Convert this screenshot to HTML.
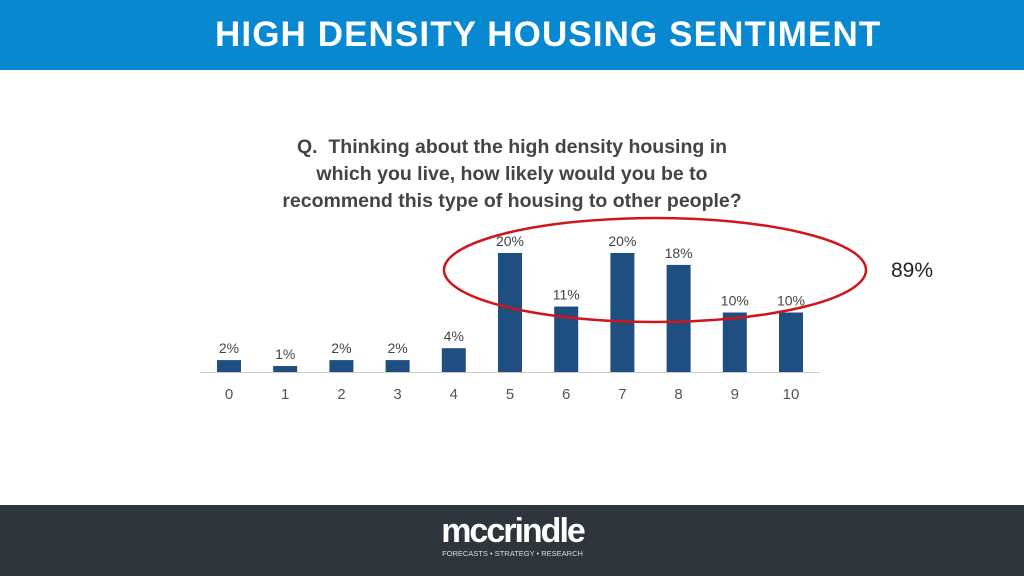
<!DOCTYPE html>
<html><head><meta charset="utf-8"><style>
body{margin:0;width:1024px;height:576px;position:relative;background:#fff;font-family:"Liberation Sans",sans-serif;overflow:hidden}
#hdr{position:absolute;left:0;top:0;width:1024px;height:70px;background:#0788d0}
#hdr h1{margin:0;position:absolute;left:215px;top:15px;color:#fff;font-size:35px;font-weight:bold;letter-spacing:1.1px;white-space:nowrap}
#q{position:absolute;left:180px;width:664px;top:134px;text-align:center;color:#444;font-weight:bold;font-size:19.5px;line-height:27px}
#ftr{position:absolute;left:0;top:505px;width:1024px;height:71px;background:#2f353d}
</style></head><body>
<div id="hdr"><h1>HIGH DENSITY HOUSING SENTIMENT</h1></div>
<div id="q">Q.&nbsp; Thinking about the high density housing in<br>which you live, how likely would you be to<br>recommend this type of housing to other people?</div>
<svg id="chart" width="1024" height="576" style="position:absolute;left:0;top:0"></svg>
<div id="ftr">
<div style="position:absolute;left:430px;top:7px;width:165px;text-align:center;color:#fff;white-space:nowrap">
<div style="font-size:34px;font-weight:bold;letter-spacing:-2px;line-height:38px">mccrindle</div>
<div style="font-size:7.5px;color:#ddd;margin-top:-1px">FORECASTS • STRATEGY • RESEARCH</div></div></div>
<script>
const categories=["0","1","2","3","4","5","6","7","8","9","10"];
const values=[2,1,2,2,4,20,11,20,18,10,10];
const labels=["2%","1%","2%","2%","4%","20%","11%","20%","18%","10%","10%"];
const svg=document.getElementById('chart');const NS="http://www.w3.org/2000/svg";
const base=372,ppu=5.95,x0=229,step=56.2,bw=24;
const x=i=>x0+i*step, y=v=>base-v*ppu;
function mk(t,a){const e=document.createElementNS(NS,t);for(const k in a)e.setAttribute(k,a[k]);svg.appendChild(e);return e;}
const ax=mk('line',{x1:200,x2:820,y1:base+0.5,y2:base+0.5,stroke:'#ccc','stroke-width':1});


values.forEach((v,i)=>{
 const r=mk('rect',{x:x(i)-bw/2,y:y(v),width:bw,height:base-y(v),fill:'#1f4e80'});
 
 
 const t=mk('text',{x:x(i),y:y(v)-7,'text-anchor':'middle','font-size':14,fill:'#444','font-family':'Liberation Sans, sans-serif'});
 t.textContent=labels[i];
 
 
 const c=mk('text',{x:x(i),y:399,'text-anchor':'middle','font-size':15,fill:'#555','font-family':'Liberation Sans, sans-serif'});
 c.textContent=categories[i];
 
 
});
const el=mk('ellipse',{cx:655,cy:270,rx:211,ry:52,fill:'none',stroke:'#d0161c','stroke-width':2.5});


const tt=mk('text',{x:891,y:277,'font-size':21,fill:'#222','font-family':'Liberation Sans, sans-serif'});
tt.textContent='89%';


</script>
</body></html>
